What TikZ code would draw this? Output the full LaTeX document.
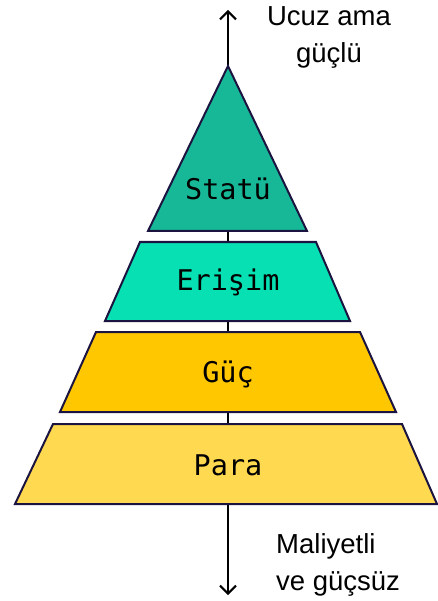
\documentclass[tikz,border=0pt]{standalone}
\usepackage{fontspec}
\setmainfont{Liberation Sans}
\newfontfamily\monof{DejaVu Sans Mono}
\usetikzlibrary{arrows.meta}
\definecolor{edge}{HTML}{1C1440}
\definecolor{cstat}{HTML}{17B897}
\definecolor{ceris}{HTML}{06E0B2}
\definecolor{cguc}{HTML}{FFC700}
\definecolor{cpara}{HTML}{FFD94F}
\tikzset{
  tier/.style={draw=edge, line width=2pt, line join=miter},
  lab/.style={font=\monof\fontsize{28.5}{30}\selectfont, text=black},
  side/.style={font=\fontsize{27.5}{37}\selectfont, text=black, inner sep=0pt},
  axis/.style={line width=2pt, draw=black}
}
\begin{document}
\begin{tikzpicture}[x=1pt,y=-1pt]
\useasboundingbox (0,0) rectangle (438,601);
\coordinate (top) at (228,10);
\coordinate (bot) at (228,595);
\draw[axis, {Straight Barb[length=8pt,width=16pt]}-{Straight Barb[length=8pt,width=16pt]}] (top) -- (bot);
\fill[cstat, tier] (228,66) -- (307,231) -- (148,231) -- cycle;
\fill[ceris, tier] (140,242) -- (316,242) -- (350,321) -- (105,321) -- cycle;
\fill[cguc, tier] (96,332) -- (360,332) -- (396,412) -- (60,412) -- cycle;
\fill[cpara, tier] (53,424) -- (402,424) -- (437,504) -- (15,504) -- cycle;
\node[lab] (s) at (228,189) {Statü};
\node[lab] (e) at (228,282) {Erişim};
\node[lab] (g) at (228,374) {Güç};
\node[lab] (p) at (228,465) {Para};
\node[side, align=center, anchor=base] (u) at (329,63) {Ucuz ama\\güçlü};
\node[side, align=left, anchor=base west] (m) at (276,590) {Maliyetli\\ve güçsüz};
\end{tikzpicture}
\end{document}
